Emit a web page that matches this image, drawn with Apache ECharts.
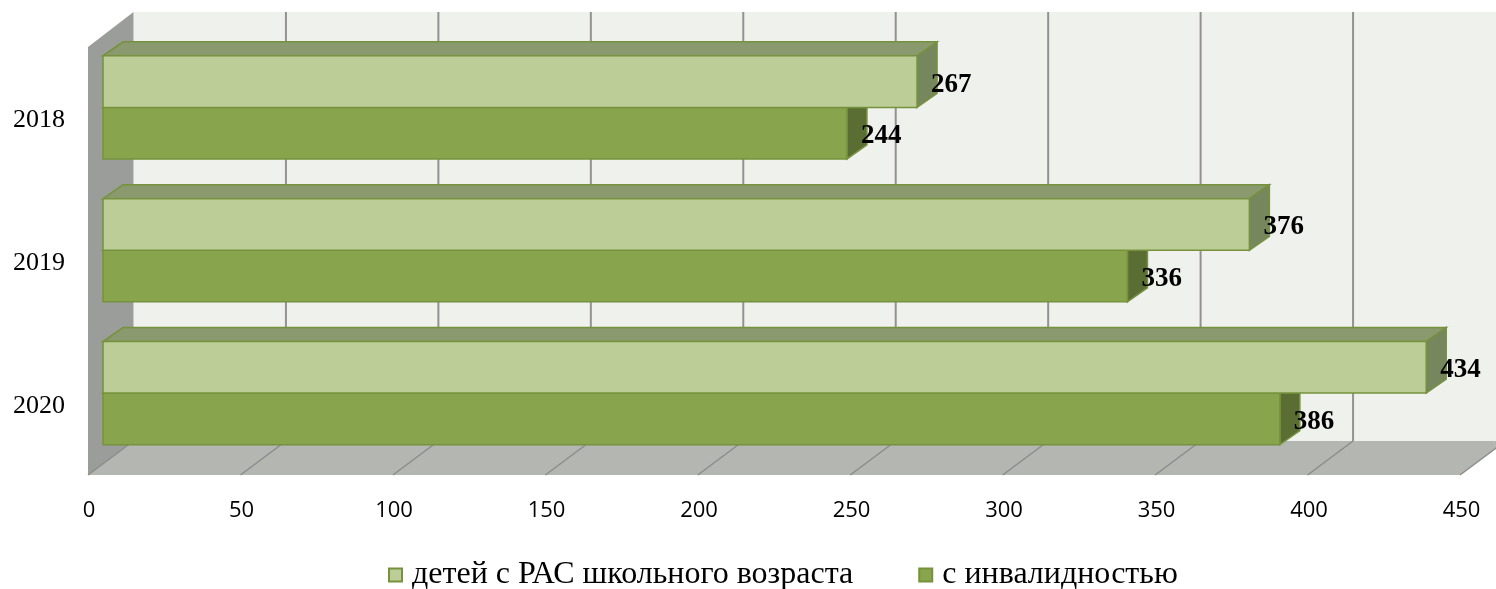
<!DOCTYPE html>
<html>
<head>
<meta charset="utf-8">
<script src="https://cdn.jsdelivr.net/npm/echarts@6/dist/echarts.min.js"></script>
<style>
html,body{margin:0;padding:0;background:#fff;}
#chart{width:1496px;height:589px;}
</style>
</head>
<body>
<div id="chart"></div>
<script>
var categories = ['2018', '2019', '2020'];
var seriesNames = ['детей с РАС школьного возраста', 'с инвалидностью'];
var schoolAge = [267, 376, 434];
var disabled = [244, 336, 386];
var xTicks = [0, 50, 100, 150, 200, 250, 300, 350, 400, 450];

var AX_MIN = xTicks[0], AX_MAX = xTicks[xTicks.length - 1], AX_INT = xTicks[1] - xTicks[0];

var DEPTH_X = 20, DEPTH_Y = -14;
var BACK_OFF = 30.5, FRONT_OFF = -15;

var colors = {
  light: {front: '#bccd98', top: '#8a996e', side: '#76875d'},
  dark: {front: '#88a44d', top: '#6e8540', side: '#5a6e34'},
  edge: '#76923c'
};

function barRenderer(kind) {
  return function (params, api) {
    var v = api.value(0), c = api.value(1);
    var p0 = api.coord([0, c]);
    var p1 = api.coord([v, c]);
    var band = api.size([0, 1])[1];
    var bw = band * 0.361;
    var top = kind === 'light' ? p0[1] - bw : p0[1];
    var bot = top + bw;
    var x0 = p0[0], x1 = p1[0];
    var col = colors[kind];
    var children = [];
    children.push({type: 'polygon', shape: {points: [[x0, top], [x1, top], [x1 + DEPTH_X, top + DEPTH_Y], [x0 + DEPTH_X, top + DEPTH_Y]]},
      style: {fill: col.top, stroke: colors.edge, lineWidth: 1.5}});
    children.push({type: 'polygon', shape: {points: [[x1, top], [x1 + DEPTH_X, top + DEPTH_Y], [x1 + DEPTH_X, bot + DEPTH_Y], [x1, bot]]},
      style: {fill: col.side, stroke: colors.edge, lineWidth: 1.5}});
    children.push({type: 'rect', shape: {x: x0, y: top, width: x1 - x0, height: bw},
      style: {fill: col.front, stroke: colors.edge, lineWidth: 1.5}});
    children.push({type: 'text', z2: 100, style: {text: String(v), x: x1 + 14, y: (top + bot) / 2 + 3,
      verticalAlign: 'middle', align: 'left', fill: '#000',
      fontSize: 27, fontWeight: 'bold', fontFamily: '"Liberation Serif", "Times New Roman", serif'}});
    return {type: 'group', children: children};
  };
}

function bgRenderer(params, api) {
  var cs = params.coordSys;
  var gy = cs.y, gh = cs.height;
  var wallTop = gy - 24, floorBack = gy + gh - 23.5, floorFront = gy + gh + 10.5;
  var x0 = api.coord([AX_MIN, 0])[0], xM = api.coord([AX_MAX, 0])[0];
  var ch = [];
  ch.push({type: 'rect', shape: {x: x0 + BACK_OFF, y: wallTop, width: xM - x0 + 40, height: floorBack - wallTop},
    style: {fill: '#eff1ec'}});
  ch.push({type: 'polygon', shape: {points: [[x0 + FRONT_OFF, wallTop + 35], [x0 + BACK_OFF, wallTop], [x0 + BACK_OFF, floorBack], [x0 + FRONT_OFF, floorFront]]},
    style: {fill: '#9b9d9a'}});
  ch.push({type: 'polygon', shape: {points: [[x0 + FRONT_OFF, floorFront], [xM + FRONT_OFF, floorFront], [xM + BACK_OFF, floorBack], [x0 + BACK_OFF, floorBack]]},
    style: {fill: '#b4b6b1'}});
  xTicks.forEach(function (t, i) {
    var x = api.coord([t, 0])[0];
    if (i > 0) {
      ch.push({type: 'line', shape: {x1: x + BACK_OFF, y1: wallTop, x2: x + BACK_OFF, y2: floorBack},
        style: {stroke: '#929292', lineWidth: 2}});
    }
    ch.push({type: 'line', shape: {x1: x + FRONT_OFF, y1: floorFront, x2: x + BACK_OFF, y2: floorBack},
      style: {stroke: '#8c8c8c', lineWidth: 1.5}});
  });
  return {type: 'group', children: ch};
}

var chart = echarts.init(document.getElementById('chart'), null, {renderer: 'canvas'});
var option = {
  animation: false,
  backgroundColor: '#ffffff',
  grid: [
    {left: 103, width: 1372, top: 36, height: 428.5},
    {left: 89, width: 1372.5, top: 465, height: 10}
  ],
  xAxis: [
    {gridIndex: 0, type: 'value', min: AX_MIN, max: AX_MAX, interval: AX_INT, show: false},
    {gridIndex: 1, type: 'value', min: AX_MIN, max: AX_MAX, interval: AX_INT,
      axisLine: {show: false}, axisTick: {show: false}, splitLine: {show: false},
      axisLabel: {margin: 25, color: '#000', fontSize: 22, fontFamily: '"Open Sans", "Liberation Sans", sans-serif'}}
  ],
  yAxis: [
    {gridIndex: 0, type: 'category', data: categories, inverse: true,
      axisLine: {show: false}, axisTick: {show: false}, splitLine: {show: false},
      axisLabel: {margin: 38, color: '#000', fontSize: 26, verticalAlign: 'top', lineHeight: 26,
        fontFamily: '"Liberation Serif", "Times New Roman", serif'}},
    {gridIndex: 1, type: 'value', show: false}
  ],
  legend: {
    left: 388, top: 559, padding: 0,
    itemWidth: 13, itemHeight: 13, itemGap: 65,
    icon: 'rect',
    textStyle: {color: '#000', fontSize: 32, padding: [0, 0, 0, 5],
      fontFamily: '"Liberation Serif", "Times New Roman", serif'},
    data: seriesNames
  },
  series: [
    {type: 'custom', name: 'bg', silent: true, xAxisIndex: 0, yAxisIndex: 0, z: 1, clip: false,
      renderItem: bgRenderer, data: [[0, 0]]},
    {type: 'custom', name: seriesNames[1], xAxisIndex: 0, yAxisIndex: 0, z: 2, clip: false,
      itemStyle: {color: colors.dark.front, borderColor: colors.edge, borderWidth: 1},
      renderItem: barRenderer('dark'),
      encode: {x: 0, y: 1},
      data: disabled.map(function (v, i) { return [v, i]; })},
    {type: 'custom', name: seriesNames[0], xAxisIndex: 0, yAxisIndex: 0, z: 3, clip: false,
      itemStyle: {color: colors.light.front, borderColor: colors.edge, borderWidth: 1},
      renderItem: barRenderer('light'),
      encode: {x: 0, y: 1},
      data: schoolAge.map(function (v, i) { return [v, i]; })}
  ]
};
chart.setOption(option);
</script>
</body>
</html>
